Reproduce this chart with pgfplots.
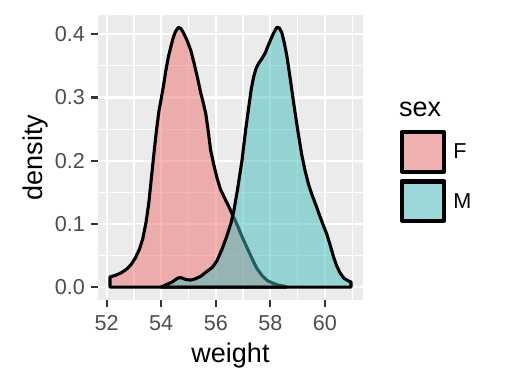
\documentclass[border=0pt]{standalone}
\usepackage{fontspec}
\setmainfont{Liberation Sans}
\usepackage{pgfplots}
\pgfplotsset{compat=1.18}
\definecolor{panelbg}{HTML}{EBEBEB}
\definecolor{fcol}{RGB}{237,111,109}
\definecolor{mcol}{RGB}{65,189,189}
\definecolor{fkey}{RGB}{240,178,177}
\definecolor{mkey}{RGB}{156,216,217}
\definecolor{tickcol}{HTML}{333333}
\definecolor{ticklab}{HTML}{4D4D4D}
\begin{document}
\begin{tikzpicture}
\useasboundingbox (0,0) rectangle (518pt,-384pt);
\begin{axis}[
  at={(98pt,-300pt)}, anchor=south west,
  scale only axis, width=265pt, height=285pt,
  xmin=51.68, xmax=61.40, ymin=-0.0205, ymax=0.4305,
  axis background/.style={fill=panelbg},
  axis line style={draw=none},
  xtick={52,54,56,58,60}, xticklabels={52,54,56,58,60},
  ytick={0,0.1,0.2,0.3,0.4}, yticklabels={0.0,0.1,0.2,0.3,0.4},
  minor xtick={53,55,57,59,61},
  minor ytick={0.05,0.15,0.25,0.35},
  grid=both,
  major grid style={white, line width=2.2pt},
  minor grid style={white, line width=1.1pt},
  tick align=outside, xtick pos=bottom, ytick pos=left,
  major tick length=7pt, minor tick length=0pt,
  major tick style={tickcol, line width=2.2pt},
  tick label style={font=\fontsize{21.6}{24}\selectfont, text=ticklab, inner sep=0pt},
  yticklabel style={anchor=east, xshift=-6pt},
  xticklabel style={anchor=base, yshift=-23.5pt},
  legend style={at={(axis description cs:1.1396,0.5965)}, anchor=north west, draw=none, fill=none, inner sep=0pt, row sep=5pt,
    font=\fontsize{21.6}{24}\selectfont, nodes={inner sep=0pt},
    /tikz/every odd column/.append style={column sep=7pt}},
  legend cell align=left,
]
\addplot[draw=black, line width=3.1pt, line join=round, fill=fcol, fill opacity=0.5, draw opacity=1,
  legend image code/.code={\path (0pt,-20.5pt) rectangle (43pt,20.5pt);
    \filldraw[fill=fkey, draw=black, line width=2.7pt, fill opacity=1] (1.35pt,-19.15pt) rectangle (41.65pt,19.15pt);}] coordinates {
(52.12,0) (52.12,0.016) (52.35,0.019) (52.55,0.023) (52.75,0.029) (52.90,0.036)
(53.05,0.046) (53.20,0.060) (53.32,0.076) (53.44,0.102) (53.54,0.132) (53.62,0.165)
(53.74,0.215) (53.83,0.250) (53.92,0.280) (53.99,0.296) (54.08,0.318) (54.17,0.343)
(54.26,0.364) (54.35,0.380) (54.44,0.395) (54.53,0.405) (54.63,0.411) (54.72,0.409)
(54.82,0.402) (54.95,0.390) (55.08,0.375) (55.20,0.355) (55.33,0.331) (55.45,0.307)
(55.55,0.290) (55.63,0.275) (55.72,0.248) (55.81,0.217) (55.93,0.193) (56.05,0.172)
(56.17,0.155) (56.30,0.143) (56.45,0.130) (56.62,0.114) (56.80,0.097) (56.96,0.080)
(57.15,0.062) (57.33,0.045) (57.50,0.030) (57.70,0.018) (57.90,0.010) (58.10,0.006)
(58.30,0.003) (58.55,0.001) (58.60,0)
} \closedcycle;
\addlegendentry{F}
\addplot[draw=black, line width=3.1pt, line join=round, fill=mcol, fill opacity=0.5, draw opacity=1,
  legend image code/.code={\path (0pt,-20.5pt) rectangle (43pt,20.5pt);
    \filldraw[fill=mkey, draw=black, line width=2.7pt, fill opacity=1] (1.35pt,-19.15pt) rectangle (41.65pt,19.15pt);}] coordinates {
(53.99,0) (54.20,0.004) (54.40,0.008) (54.60,0.014) (54.72,0.015) (54.90,0.012)
(55.08,0.011) (55.25,0.013) (55.45,0.017) (55.65,0.024) (55.87,0.031) (56.05,0.042)
(56.23,0.060) (56.40,0.080) (56.55,0.100) (56.66,0.120) (56.80,0.155) (56.96,0.200)
(57.10,0.250) (57.21,0.285) (57.30,0.313) (57.39,0.333) (57.48,0.346) (57.57,0.354)
(57.70,0.362) (57.82,0.371) (57.92,0.382) (58.02,0.392) (58.12,0.402) (58.24,0.411)
(58.33,0.410) (58.42,0.403) (58.52,0.385) (58.61,0.365) (58.73,0.330) (58.85,0.293)
(59.00,0.250) (59.15,0.210) (59.28,0.183) (59.40,0.163) (59.52,0.147) (59.67,0.130)
(59.82,0.112) (59.95,0.097) (60.07,0.084) (60.20,0.066) (60.31,0.049) (60.43,0.034)
(60.55,0.023) (60.70,0.014) (60.85,0.010) (60.96,0.008) (60.96,0)
} \closedcycle;
\addlegendentry{M}
\end{axis}
\node[anchor=base, font=\fontsize{27}{30}\selectfont, inner sep=0pt] at (230.5pt,-362pt) {weight};
\node[rotate=90, anchor=base, font=\fontsize{27}{30}\selectfont, inner sep=0pt] at (42pt,-157.5pt) {density};
\node[anchor=base west, font=\fontsize{27}{30}\selectfont, inner sep=0pt] at (399pt,-116.7pt) {sex};
\end{tikzpicture}
\end{document}
